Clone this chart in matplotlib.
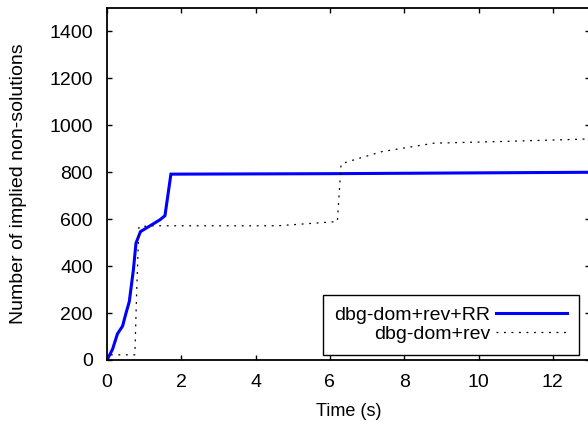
import numpy as np
import matplotlib
matplotlib.use('Agg')
import matplotlib.pyplot as plt

plt.rcParams['font.family'] = ['Liberation Sans', 'DejaVu Sans']

# dbg-dom+rev+RR (blue solid)
rr_time = [0.0, 0.15, 0.28, 0.42, 0.51, 0.60, 0.71, 0.78, 0.90, 1.42, 1.56, 1.72, 6.0, 13.0]
rr_count = [0, 46, 111, 145, 199, 249, 384, 498, 547, 597, 615, 792, 794, 800]

# dbg-dom+rev (black dotted)
rev_time = [0.0, 0.05, 0.75, 0.80, 0.86, 1.2, 3.0, 4.6, 6.2, 6.3, 6.5, 7.4, 8.8, 10.6, 13.0]
rev_count = [0, 22, 22, 300, 568, 572, 572, 572, 590, 835, 846, 888, 924, 931, 942]

x_ticks = [0, 2, 4, 6, 8, 10, 12]
y_ticks = [0, 200, 400, 600, 800, 1000, 1200, 1400]

fig = plt.figure(figsize=(5.88, 4.24), dpi=100)
ax = fig.add_axes([107/588, 64/424, (590-107)/588, (360-8)/424])

ax.plot(rr_time, rr_count, color='#0000ff', lw=2.2, label='dbg-dom+rev+RR', solid_joinstyle='miter')
ax.plot(rev_time, rev_count, color='black', lw=0.9, linestyle=(0, (1.5, 4.5)), label='dbg-dom+rev')

ax.set_xlim(0, 13)
ax.set_ylim(0, 1500)
ax.set_xticks(x_ticks)
ax.set_yticks(y_ticks)
ax.tick_params(direction='in', length=3.5, width=1, top=True, right=True, labelsize=14, pad=10)
for s in ax.spines.values():
    s.set_linewidth(1.3)

ax.set_xlabel('Time (s)', fontsize=13, labelpad=9)
ax.set_ylabel('Number of implied non-solutions', fontsize=14, labelpad=16)

leg = ax.legend(loc='upper right', bbox_to_anchor=(579/588, 1 - 295/424), bbox_transform=fig.transFigure,
                borderaxespad=0, markerfirst=False, fancybox=False, fontsize=14, handlelength=3.65,
                handletextpad=0.3, labelspacing=0.05, borderpad=0.6, framealpha=1)
leg.get_frame().set_edgecolor('black')
leg.get_frame().set_linewidth(1.0)

fig.savefig('out.png', dpi=100)
